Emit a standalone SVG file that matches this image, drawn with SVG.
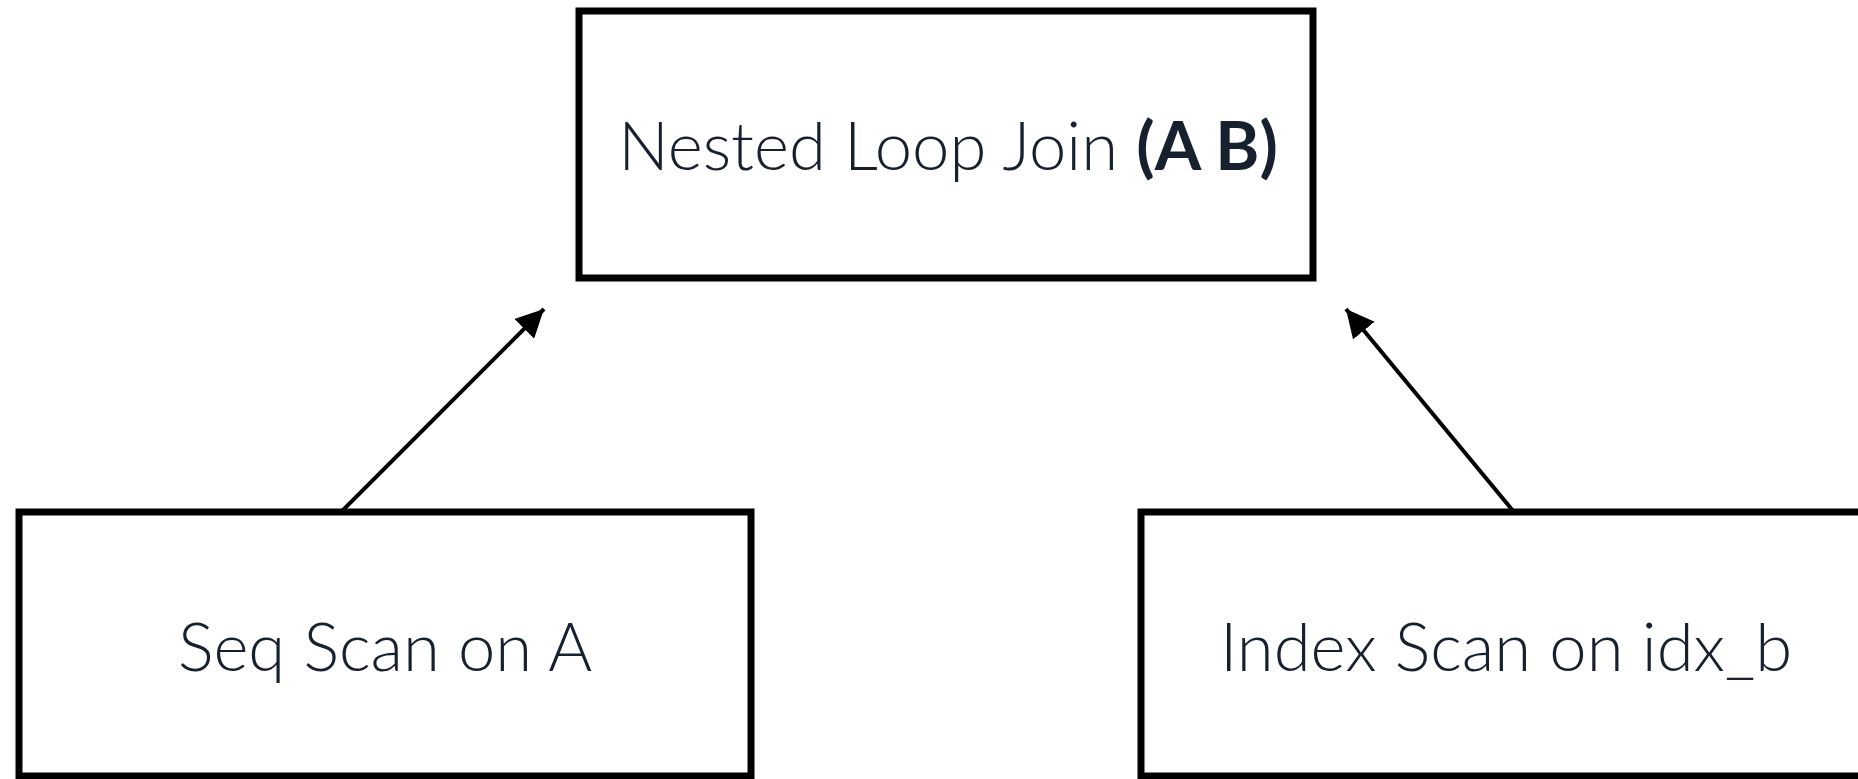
<svg xmlns="http://www.w3.org/2000/svg" width="1858" height="779" viewBox="0 0 1858 779">
  <style>
    .box { fill: #ffffff; stroke: #000000; stroke-width: 7; }
    .label { font-family: Lato, "Open Sans", "Liberation Sans", sans-serif; font-weight: 300; font-size: 67px; fill: #17202e; text-anchor: middle; }
    .strong { font-weight: 700; }
    .edge { stroke: #000000; stroke-width: 4; fill: none; marker-end: url(#arrow); }
  </style>
  <defs>
    <marker id="arrow" viewBox="0 0 10 10" refX="10" refY="5" markerWidth="7" markerHeight="7" markerUnits="strokeWidth" orient="auto">
      <path d="M0,0 L10,5 L0,10 Z" fill="#000000"/>
    </marker>
  </defs>
  <rect width="1858" height="779" fill="#ffffff"/>

  <g id="connectors">
    <line class="edge" x1="341" y1="512" x2="544" y2="309"/>
    <line class="edge" x1="1514" y1="512" x2="1346" y2="309"/>
  </g>

  <g id="nested-loop-join">
    <rect class="box" x="579" y="11" width="734" height="267"/>
    <text class="label" x="948" y="170">Nested Loop Join <tspan class="strong">(A B)</tspan></text>
  </g>

  <g id="seq-scan">
    <rect class="box" x="19" y="512" width="732" height="264"/>
    <text class="label" x="385" y="671">Seq Scan on A</text>
  </g>

  <g id="index-scan">
    <rect class="box" x="1141" y="512" width="734" height="264"/>
    <text class="label" x="1506" y="671">Index Scan on idx_b</text>
  </g>
</svg>
